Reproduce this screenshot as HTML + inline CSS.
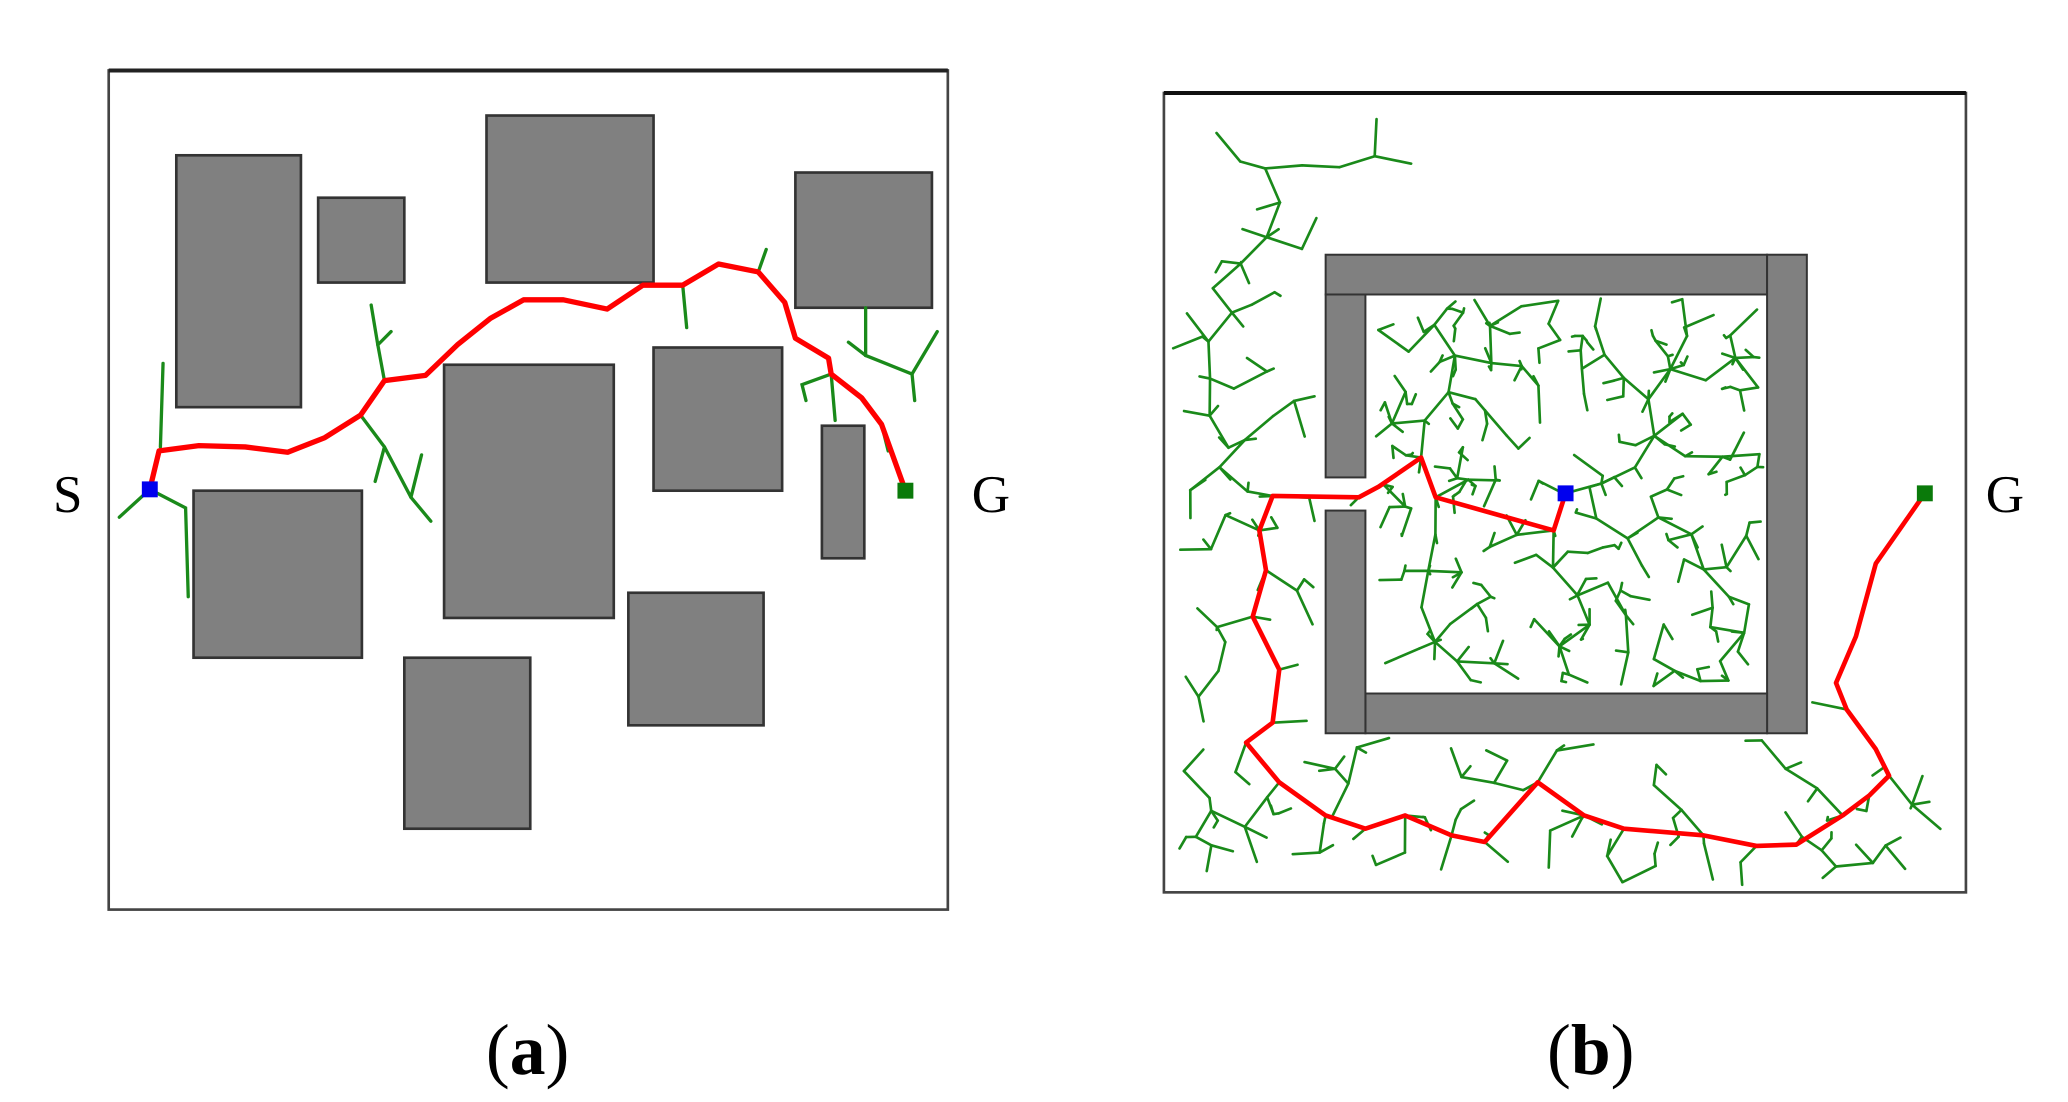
<!DOCTYPE html>
<html><head><meta charset="utf-8"><style>
html,body{margin:0;padding:0;background:#fff;}
svg{display:block;}
</style></head><body>
<svg id="s" width="2068" height="1102" viewBox="0 0 1560 831" xmlns="http://www.w3.org/2000/svg" font-family="Liberation Serif, serif">
<rect x="0" y="0" width="1560" height="831" fill="#fff"/>
<!-- Panel a -->
<rect x="82" y="53" width="633" height="633" fill="#fff" stroke="#444" stroke-width="2"/>
<line x1="82" y1="53" x2="715" y2="53" stroke="#222" stroke-width="3"/>
<g fill="#808080" stroke="#333" stroke-width="2">
<rect x="133" y="117" width="94" height="190"/>
<rect x="240" y="149" width="65" height="64"/>
<rect x="367" y="87" width="126" height="126"/>
<rect x="600" y="130" width="103" height="102"/>
<rect x="335" y="275" width="128" height="191"/>
<rect x="493" y="262" width="97" height="108"/>
<rect x="620" y="321" width="32" height="100"/>
<rect x="146" y="370" width="127" height="126"/>
<rect x="474" y="447" width="102" height="100"/>
<rect x="305" y="496" width="95" height="129"/>
</g>
<g stroke="#1a8a1a" stroke-width="2.5" fill="none" stroke-linecap="round">
<polyline points="121,337 123,274"/>
<polyline points="113,369 90,390"/>
<polyline points="113,369 140,383 142,450"/>
<polyline points="290,287 285,260 280,230"/>
<polyline points="285,260 295,250"/>
<polyline points="272,313 290,337 310,375 325,393"/>
<polyline points="290,337 283,363"/>
<polyline points="310,375 318,343"/>
<polyline points="515,215 518,247"/>
<polyline points="572,205 578,188"/>
<polyline points="653,232 653,268 688,282 707,250"/>
<polyline points="688,282 690,302"/>
<polyline points="627,282 605,290 608,302"/>
<polyline points="653,268 640,258"/>
<polyline points="627,282 630,317"/>
<polyline points="665,320 670,340"/>
</g>
<polyline points="113,369 120,340 150,336 185,337 217,341 245,330 272,313 290,287 321,283 345,260 370,240 395,226 425,226 458,233 485,215 515,215 542,199 572,205 592,228 600,255 625,270 627,282 650,300 665,320 683,370" fill="none" stroke="#f00" stroke-width="4" stroke-linejoin="round"/>
<rect x="107" y="363" width="12" height="12" fill="#0000ee"/>
<rect x="677" y="364" width="12" height="12" fill="#0a7a0a"/>
<text x="40" y="386" font-size="40">S</text>
<text x="733" y="386" font-size="40">G</text>
<text x="398" y="810" font-size="54" text-anchor="middle">(<tspan font-weight="bold">a</tspan>)</text>
<!-- Panel b -->
<rect x="878" y="70" width="605" height="603" fill="#fff" stroke="#444" stroke-width="2"/>
<line x1="878" y1="70" x2="1483" y2="70" stroke="#111" stroke-width="3"/>
<g id="tree" stroke="#1a8a1a" stroke-width="2" fill="none" stroke-linecap="round"></g>
<g fill="#808080" stroke="#333" stroke-width="1.5">
<rect x="1000" y="192" width="333" height="30"/>
<rect x="1333" y="192" width="30" height="361"/>
<rect x="1030" y="523" width="303" height="30"/>
<rect x="1000" y="222" width="30" height="138"/>
<rect x="1000" y="385" width="30" height="168"/>
</g>
<polyline id="rp" points="1181,372 1172,400 1083,375 1072,345 1040,367 1025,375 960,374 950,400 955,430 945,465 965,505 960,545 940,560 965,590 1000,615 1030,625 1060,615 1095,630 1120,635 1160,590 1195,615 1225,625 1285,630 1325,638 1355,637 1390,615 1410,600 1425,585 1415,565 1393,535 1385,515 1400,480 1415,425 1452,372" fill="none" stroke="#f00" stroke-width="3.5" stroke-linejoin="round"/>
<rect x="1175" y="366" width="12" height="12" fill="#0000ee"/>
<rect x="1446" y="366" width="12" height="12" fill="#0a7a0a"/>
<text x="1498" y="386" font-size="40">G</text>
<text x="1200" y="810" font-size="54" text-anchor="middle">(<tspan font-weight="bold">b</tspan>)</text>
</svg>
<script>
(function(){
var seed=777;function r(){seed=(seed*1103515245+12345)&0x7fffffff;return seed/0x7fffffff;}
var walls=[[1000,192,1363,222],[1333,192,1363,553],[1000,523,1363,553],[1000,222,1030,360],[1000,385,1030,553]];
function hit(x,y){for(var i=0;i<walls.length;i++){var w=walls[i];if(x>w[0]-3&&x<w[2]+3&&y>w[1]-3&&y<w[3]+3)return true;}return x<883||x>1478||y<78||y>668;}
function ok(x,y){if(x>1370&&y<540)return false;if(y<190&&x>1415)return false;if(x>1365&&y>540&&y<570)return false;return true;}
var pts=document.getElementById('rp').getAttribute('points').trim().split(/\s+/);
var nodes=[];for(var k=0;k<pts.length-4;k++){var p=pts[k].split(',');nodes.push([+p[0],+p[1]]);}
var g=document.getElementById('tree');var out='';
var it=0;
while(nodes.length<580&&it<60000){it++;
var sx,sy;if(r()<0.3){sx=1035+r()*295;sy=225+r()*295;}else{sx=880+r()*600;sy=75+r()*595;}
if(!ok(sx,sy))continue;
var bi=0,bd=1e9;for(var i=0;i<nodes.length;i++){var dx=nodes[i][0]-sx,dy=nodes[i][1]-sy,d=dx*dx+dy*dy;if(d<bd){bd=d;bi=i;}}
var n=nodes[bi];var d=Math.sqrt(bd);if(d<1)continue;var st=28;if(d<st)st=d;var nx=n[0]+(sx-n[0])/d*st,ny=n[1]+(sy-n[1])/d*st;
if(hit(nx,ny)||hit((nx+n[0])/2,(ny+n[1])/2)||hit(n[0]+(nx-n[0])*0.25,n[1]+(ny-n[1])*0.25)||hit(n[0]+(nx-n[0])*0.75,n[1]+(ny-n[1])*0.75)||!ok(nx,ny))continue;
nodes.push([nx,ny]);out+='<line x1="'+n[0].toFixed(1)+'" y1="'+n[1].toFixed(1)+'" x2="'+nx.toFixed(1)+'" y2="'+ny.toFixed(1)+'"/>';}
g.innerHTML=out;
})();
</script>
</body></html>
